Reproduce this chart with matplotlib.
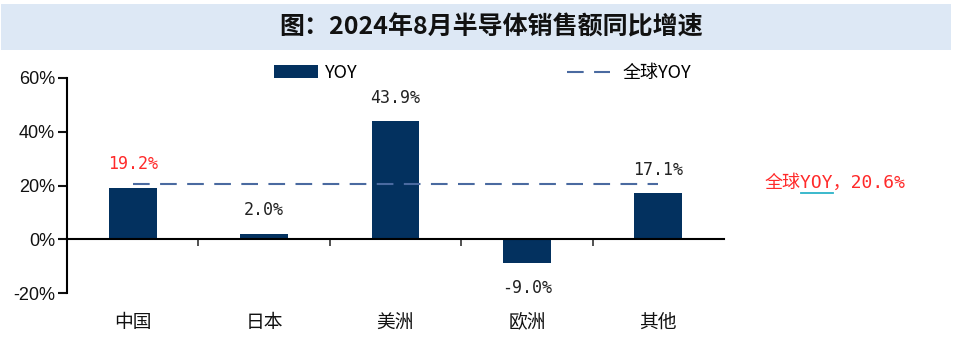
import matplotlib
matplotlib.use("Agg")
import matplotlib.pyplot as plt
from matplotlib.patches import Rectangle, Patch
from matplotlib.lines import Line2D
import matplotlib.transforms as mtrans

plt.rcParams['font.family'] = ['Noto Sans CJK SC', 'DejaVu Sans']

title = "图：2024年8月半导体销售额同比增速"
categories = ["中国", "日本", "美洲", "欧洲", "其他"]
yoy = [19.2, 2.0, 43.9, -9.0, 17.1]
global_yoy = 20.6
value_labels = ["19.2%", "2.0%", "43.9%", "-9.0%", "17.1%"]
label_colors = ["#ff2a2a", "#222222", "#222222", "#222222", "#222222"]
yticks = [-20, 0, 20, 40, 60]
ytick_labels = ["-20%", "0%", "20%", "40%", "60%"]
global_note = "全球YOY，20.6%"

bar_color = "#03315f"
line_color = "#4a6aa0"
dash = (8, 5)

fig = plt.figure(figsize=(9.54, 3.37), dpi=100)
fig.patch.set_facecolor("white")

# title band
fig.patches.append(Rectangle((1/954, 1-50/337), 950/954, 46/337, transform=fig.transFigure,
                             facecolor="#dde8f5", edgecolor="none", zorder=0))
fig.text(491/954, 1-27/337, title, ha="center", va="center", fontsize=18,
         fontweight="bold", color="#111111")

ax = fig.add_axes([67/954, 1-293/337, 657/954, (293-78)/337])
x = list(range(len(categories)))
ax.bar(x, yoy, width=0.365, color=bar_color, zorder=2)
ax.plot([x[0], x[-1]], [global_yoy, global_yoy], color=line_color, lw=1.5,
        dashes=dash, zorder=3)

ax.set_xlim(-0.5, len(categories) - 0.5)
ax.set_ylim(-20, 60)
ax.set_yticks(yticks)
ax.set_yticklabels(ytick_labels, fontsize=13, family=['Liberation Sans', 'DejaVu Sans'])
ax.tick_params(axis='y', direction='out', length=6.5, width=1.5, pad=2, colors="#111111")

ax.spines['top'].set_visible(False)
ax.spines['right'].set_visible(False)
ax.spines['left'].set_linewidth(1.5)
ax.spines['bottom'].set_position(('data', 0))
ax.spines['bottom'].set_linewidth(1.5)
ax.set_xticks([i + 0.5 for i in x[:-1]])
ax.set_xticklabels([])
ax.tick_params(axis='x', direction='out', length=5, width=1.2, colors="#333333")

trans = mtrans.blended_transform_factory(ax.transData, ax.transAxes)
for i, c in zip(x, categories):
    ax.text(i, -0.135, c, transform=trans, ha="center", va="center", fontsize=13.5,
            color="#111111")

for i, v, lab, col in zip(x, yoy, value_labels, label_colors):
    off = 17 if v >= 0 else -18
    ax.annotate(lab, (i, v), xytext=(0, off), textcoords="offset points",
                ha="center", va="center", fontsize=12, color=col,
                family=['DejaVu Sans Mono', 'DejaVu Sans'])

# legends
leg1 = ax.legend(handles=[Patch(facecolor=bar_color, edgecolor="none")], labels=["YOY"],
                 loc="center left", bbox_to_anchor=(274/954, 1-73/337),
                 bbox_transform=fig.transFigure, frameon=False, fontsize=13,
                 handlelength=2.45, handleheight=0.75, handletextpad=0.35,
                 borderpad=0, borderaxespad=0)
ax.add_artist(leg1)
leg2 = ax.legend(handles=[Line2D([], [], color=line_color, lw=1.5, dashes=dash)],
                 labels=["全球YOY"], loc="center left", bbox_to_anchor=(567/954, 1-73/337),
                 bbox_transform=fig.transFigure, frameon=False, fontsize=13,
                 handlelength=2.4, handletextpad=0.65, borderpad=0, borderaxespad=0)

fig.text(765/954, 1-183/337, global_note, ha="left", va="center", fontsize=13,
         color="#ff2a2a", family=['DejaVu Sans Mono', 'Noto Sans CJK SC'])
# spell-check style underline under "YOY" in the note
fig.add_artist(Line2D([801/954, 833/954], [1-193/337, 1-193/337], transform=fig.transFigure,
                      color="#2bb3c8", lw=1.3))

fig.savefig("out.png", dpi=100)
